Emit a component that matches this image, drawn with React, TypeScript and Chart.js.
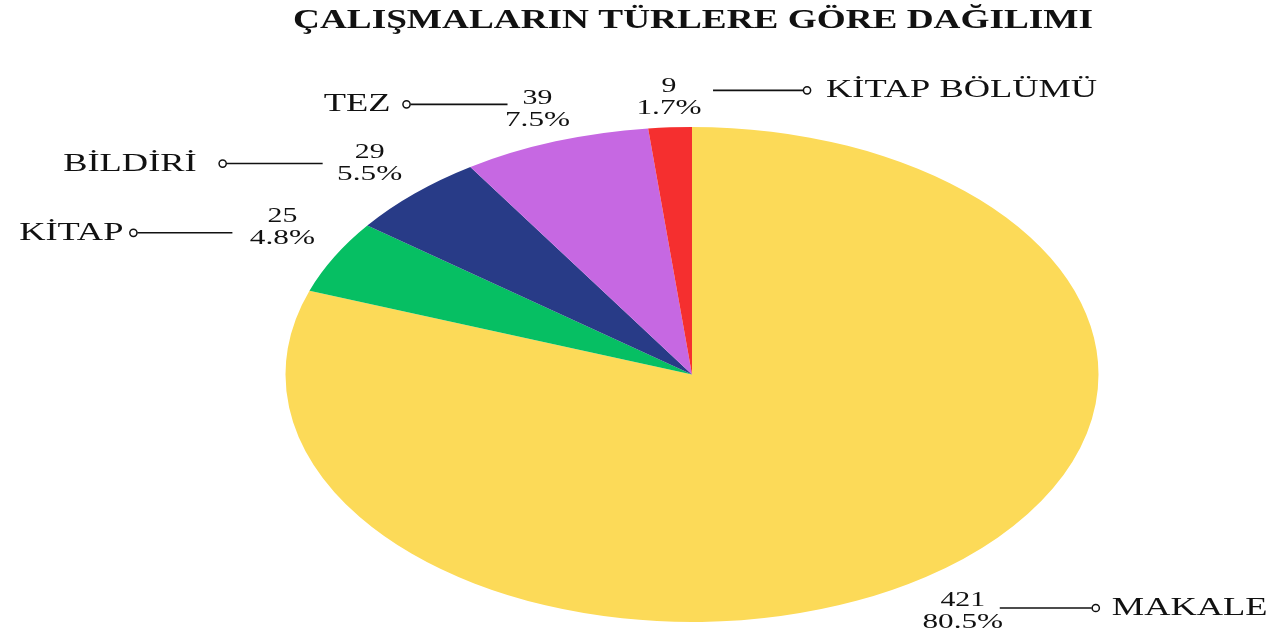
import React, { useEffect, useRef } from "react";
import { Chart, registerables } from "chart.js";

Chart.register(...registerables);

const TITLE = "ÇALIŞMALARIN TÜRLERE GÖRE DAĞILIMI";
const categories = ["MAKALE", "KİTAP", "BİLDİRİ", "TEZ", "KİTAP BÖLÜMÜ"];
const counts = [421, 25, 29, 39, 9];
const colors = ["#FCDA58", "#06BF63", "#283B87", "#C668E2", "#F52F2F"];

// label layout (styling only): offsets from the slice's outer mid point
const LABEL_LAYOUT = [
  { side: 1, dx: 37, dy: 29, lineDy: 2, gap: 37, len: 92, nameGap: 16 },
  { side: -1, dx: -52, dy: -35, lineDy: 11, gap: 50, len: 95, nameGap: 10 },
  { side: -1, dx: -45, dy: -36, lineDy: 6, gap: 47, len: 96, nameGap: 26 },
  { side: -1, dx: -18, dy: -37, lineDy: 0, gap: 30, len: 97, nameGap: 16 },
  { side: 1, dx: -1, dy: -35, lineDy: -2, gap: 44, len: 90, nameGap: 19 },
];

const RX = 406.5; // horizontal radius of the (stretched) pie
const TEXT_SX = 1.42;
const NAME_SX = 1.4;
const FONT = "'Liberation Serif', 'Times New Roman', serif";
const TEXT_COLOR = "#111111";

function drawText(
  ctx: CanvasRenderingContext2D,
  text: string,
  x: number,
  y: number,
  font: string,
  align: "left" | "right" | "center",
  sx: number
) {
  ctx.save();
  ctx.font = font;
  ctx.textBaseline = "alphabetic";
  ctx.textAlign = "left";
  const w = ctx.measureText(text).width * sx;
  const left = align === "left" ? x : align === "right" ? x - w : x - w / 2;
  ctx.translate(left, y);
  ctx.scale(sx, 1);
  ctx.fillStyle = TEXT_COLOR;
  ctx.fillText(text, 0, 0);
  ctx.restore();
}

const ellipsePlugin = {
  id: "ellipsePie",
  beforeDatasetsDraw(chart: any) {
    const arc = chart.getDatasetMeta(0).data[0];
    const ctx = chart.ctx;
    ctx.save();
    if (arc) {
      const { x, y, outerRadius } = arc.getProps(["x", "y", "outerRadius"], true);
      const sx = RX / outerRadius;
      ctx.translate(x, y);
      ctx.scale(sx, 1);
      ctx.translate(-x, -y);
    }
  },
  afterDatasetsDraw(chart: any) {
    chart.ctx.restore();
  },
  afterDraw(chart: any) {
    const ctx: CanvasRenderingContext2D = chart.ctx;
    const total = counts.reduce((a, b) => a + b, 0);
    // title
    ctx.save();
    ctx.font = `bold 28px ${FONT}`;
    const tw = ctx.measureText(TITLE).width;
    ctx.restore();
    const titleSx = 800 / tw;
    const cx0 = (chart.chartArea.left + chart.chartArea.right) / 2;
    drawText(ctx, TITLE, cx0 + 1, 28, `bold 28px ${FONT}`, "center", titleSx);

    const meta = chart.getDatasetMeta(0);
    meta.data.forEach((arc: any, i: number) => {
      const { x, y, startAngle, endAngle, outerRadius } = arc.getProps(
        ["x", "y", "startAngle", "endAngle", "outerRadius"],
        true
      );
      const mid = (startAngle + endAngle) / 2;
      const px = x + RX * Math.cos(mid);
      const py = y + outerRadius * Math.sin(mid);
      const L = LABEL_LAYOUT[i];
      const lx = px + L.dx;
      const ly = py + L.dy;
      const pct = ((counts[i] / total) * 100).toFixed(1) + "%";
      drawText(ctx, String(counts[i]), lx, ly, `21px ${FONT}`, "center", TEXT_SX);
      drawText(ctx, pct, lx, ly + 22, `22px ${FONT}`, "center", TEXT_SX);

      const lineY = ly + L.lineDy;
      const near = lx + L.side * L.gap;
      const far = near + L.side * L.len;
      const cX = far + L.side * 4;
      ctx.save();
      ctx.strokeStyle = TEXT_COLOR;
      ctx.lineWidth = 1.6;
      ctx.beginPath();
      ctx.moveTo(near, lineY);
      ctx.lineTo(far, lineY);
      ctx.stroke();
      ctx.beginPath();
      ctx.arc(cX, lineY, 3.6, 0, Math.PI * 2);
      ctx.fillStyle = "#ffffff";
      ctx.fill();
      ctx.lineWidth = 1.5;
      ctx.stroke();
      ctx.restore();

      const nameX = cX + L.side * L.nameGap;
      drawText(
        ctx,
        categories[i],
        nameX,
        lineY + 7,
        `26px ${FONT}`,
        L.side > 0 ? "left" : "right",
        NAME_SX
      );
    });
  },
};

export default function App() {
  const ref = useRef<HTMLCanvasElement | null>(null);
  useEffect(() => {
    if (!ref.current) return;
    const chart = new Chart(ref.current, {
      type: "pie",
      data: {
        labels: categories,
        datasets: [
          {
            data: counts,
            backgroundColor: colors,
            borderWidth: 0,
            clip: false as any,
          },
        ],
      },
      options: {
        responsive: false,
        animation: false,
        layout: { padding: { top: 127, bottom: 16, left: 444.5, right: 340.5 } },
        plugins: {
          legend: { display: false },
          tooltip: { enabled: false },
          title: { display: false },
        },
      },
      plugins: [ellipsePlugin],
    });
    return () => chart.destroy();
  }, []);
  return (
    <canvas
      ref={ref}
      width={1280}
      height={638}
      style={{ display: "block", position: "absolute", left: 0, top: 0, width: 1280, height: 638 }}
    />
  );
}
